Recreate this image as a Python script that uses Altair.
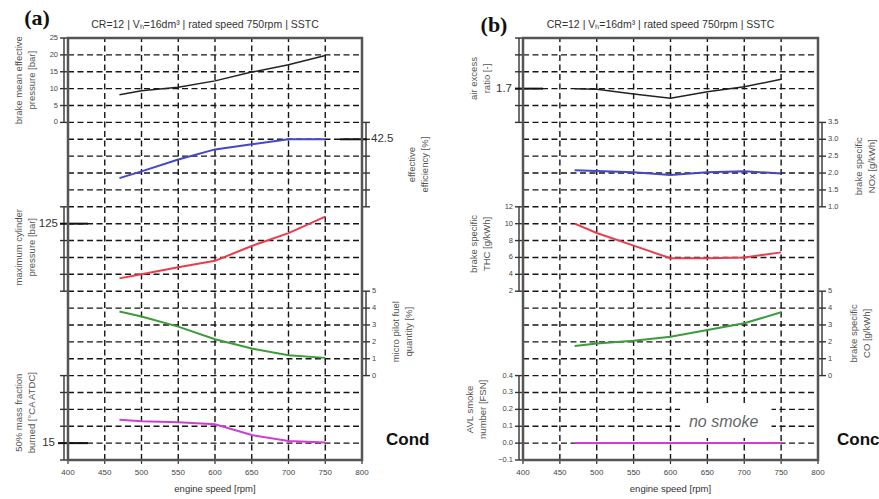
import altair as alt
import pandas as pd

# ---------------- values ----------------
rpm = [470, 500, 550, 600, 650, 700, 750]

# panel (a)
bmep = [8.2, 9.4, 10.4, 12.3, 14.9, 17.1, 19.8]             # bar
eff = [40.2, 40.6, 41.3, 41.9, 42.2, 42.5, 42.5]            # %
pmax = [108.8, 110.0, 112.1, 114.0, 118.4, 122.2, 127.1]    # bar
pilot = [3.8, 3.5, 2.9, 2.15, 1.6, 1.2, 1.05]               # %
mfb50 = [21.9, 21.5, 21.2, 20.6, 17.4, 15.6, 15.2]          # deg CA ATDC

# panel (b)
lam = [1.700, 1.696, 1.668, 1.643, 1.682, 1.711, 1.755]
nox = [2.08, 2.06, 2.02, 1.94, 2.02, 2.05, 1.99]
thc = [10.0, 8.9, 7.4, 5.9, 5.9, 6.0, 6.6]
co = [1.75, 1.90, 2.06, 2.30, 2.70, 3.10, 3.75]
smoke = [0.0, 0.0, 0.0, 0.0, 0.0, 0.0, 0.0]

x_ticks = [400, 450, 500, 550, 600, 650, 700, 750, 800]
bmep_ticks = [0, 5, 10, 15, 20, 25]
pilot_ticks = [0, 1, 2, 3, 4, 5]
nox_ticks = [1.0, 1.5, 2.0, 2.5, 3.0, 3.5]
thc_ticks = [2, 4, 6, 8, 10, 12]
co_ticks = [0, 1, 2, 3, 4, 5]
smoke_ticks = [-0.1, 0.0, 0.1, 0.2, 0.3, 0.4]

# band mapping of each quantity onto the common grid: (grid level, value there, value per grid step)
M_BMEP = (20, 0, 5)
M_EFF = (19, 42.5, 1)
M_PMAX = (14, 125, 5)
M_PILOT = (5, 0, 1)
M_MFB = (1, 15, 5)
M_LAM = (22, 1.7, 0.1)
M_NOX = (15, 1.0, 0.5)
M_THC = (10, 2, 2)
M_CO = (5, 0, 1)
M_SMOKE = (1, 0.0, 0.1)

TITLE = "CR=12 | V\u2095=16dm\u00b3 | rated speed 750rpm | SSTC"
FONT = "Liberation Sans"
GRID = "#151515"
AXC = "#333"

RANGE_A = [0, 294]
RANGE_B = [455, 750]
YS = alt.Scale(domain=[0, 25], nice=False, zero=False)


def X(f, rng):
    return alt.X(f, type="quantitative",
                 scale=alt.Scale(domain=[400, 800], range=rng, nice=False, zero=False),
                 axis=None)


def Y(f):
    return alt.Y(f, type="quantitative", scale=YS, axis=None)


def ucalc(field, m):
    u0, base, step = m
    return f"{u0} + (datum.{field} - ({base})) / {step}"


def frame(rng):
    df = pd.DataFrame({"x0": [400], "x1": [800], "u0": [0], "u1": [25]})
    return alt.Chart(df).mark_rect(fillOpacity=0, stroke="#555", strokeWidth=2.5).encode(
        x=X("x0", rng), x2="x1", y=Y("u0"), y2="u1")


def grids(rng):
    vdf = pd.DataFrame({"x": x_ticks[1:-1], "u0": 0, "u1": 25})
    v = alt.Chart(vdf).mark_rule(color=GRID, strokeWidth=1.4, strokeDash=[6, 3.5]).encode(
        x=X("x", rng), y=Y("u0"), y2="u1")
    hdf = pd.DataFrame({"u": list(range(1, 25)), "x0": 400, "x1": 800})
    h = alt.Chart(hdf).mark_rule(color=GRID, strokeWidth=1.4, strokeDash=[6, 3.5]).encode(
        x=X("x0", rng), x2="x1", y=Y("u"))
    return [v, h]


def series(rng, vals, m, color, sw=2.0):
    df = pd.DataFrame({"rpm": rpm, "v": vals})
    return alt.Chart(df).transform_calculate(u=ucalc("v", m)).mark_line(
        color=color, strokeWidth=sw).encode(x=X("rpm", rng), y=Y("u"))


def bracket(rng, side, lo, hi):
    xv = 400 if side == "left" else 800
    s = -1 if side == "left" else 1
    vdf = pd.DataFrame({"x": [xv], "lo": [lo], "hi": [hi]})
    v = alt.Chart(vdf).mark_rule(color=AXC, strokeWidth=1.4, xOffset=4 * s).encode(
        x=X("x", rng), y=Y("lo"), y2="hi")
    tdf = pd.DataFrame({"x0": xv, "x1": xv, "u": list(range(lo, hi + 1))})
    t = alt.Chart(tdf).mark_rule(color=AXC, strokeWidth=1.4, xOffset=1 * s, x2Offset=8 * s).encode(
        x=X("x0", rng), x2="x1", y=Y("u"))
    return [v, t]


def tick_labels(rng, side, ticks, m, fmt):
    left = side == "left"
    df = pd.DataFrame({"x": 400 if left else 800, "t": ticks})
    return alt.Chart(df).transform_calculate(u=ucalc("t", m)).mark_text(
        align="right" if left else "left", baseline="middle",
        xOffset=-10 if left else 10, fontSize=7.5, color="#444", font=FONT).encode(
        x=X("x", rng), y=Y("u"), text=alt.Text("t:Q", format=fmt))


def big_tick(rng, side, value, m, label, x_from, x_to, lab_off):
    left = side == "left"
    xv = 400 if left else 800
    df = pd.DataFrame({"x0": [xv], "x1": [xv], "t": [value], "s": [label]})
    base = alt.Chart(df).transform_calculate(u=ucalc("t", m))
    r = base.mark_rule(color="#111", strokeWidth=2, xOffset=x_from, x2Offset=x_to).encode(
        x=X("x0", rng), x2="x1", y=Y("u"))
    t = base.mark_text(align="right" if left else "left", baseline="middle", xOffset=lab_off,
                       fontSize=11.5, color="#333", font=FONT).encode(
        x=X("x0", rng), y=Y("u"), text="s:N")
    return [r, t]


def vtitle(rng, side, lines, uc, off):
    xv = 400 if side == "left" else 800
    out = []
    n = len(lines)
    for i, line in enumerate(lines):
        o = off + (i - (n - 1) / 2) * 13
        df = pd.DataFrame({"x": [xv], "u": [uc], "s": [line]})
        out.append(alt.Chart(df).mark_text(angle=270, align="center", baseline="middle", xOffset=o,
                                           fontSize=9.5, color="#555", font=FONT).encode(
            x=X("x", rng), y=Y("u"), text="s:N"))
    return out


def xaxis(rng):
    df = pd.DataFrame({"x": x_ticks, "u": 0})
    lab = alt.Chart(df).mark_text(yOffset=13, fontSize=8, color="#444", font=FONT).encode(
        x=X("x", rng), y=Y("u"), text=alt.Text("x:Q", format="d"))
    tk = alt.Chart(df).mark_rule(color=AXC, strokeWidth=1.2, y2Offset=4).encode(
        x=X("x", rng), y=Y("u"), y2="u")
    tdf = pd.DataFrame({"x": [600], "u": [0], "s": ["engine speed [rpm]"]})
    ttl = alt.Chart(tdf).mark_text(yOffset=29, fontSize=9.5, color="#333", font=FONT).encode(
        x=X("x", rng), y=Y("u"), text="s:N")
    return [lab, tk, ttl]


def header(rng, tag, tag_dx, tag_dy):
    df = pd.DataFrame({"x": [600], "u": [25], "s": [TITLE]})
    t = alt.Chart(df).mark_text(xOffset=-10, yOffset=-13, fontSize=10.5, color="#333", font=FONT).encode(
        x=X("x", rng), y=Y("u"), text="s:N")
    tdf = pd.DataFrame({"x": [400], "u": [25], "s": [tag]})
    g = alt.Chart(tdf).mark_text(xOffset=tag_dx, yOffset=tag_dy, fontSize=22, fontWeight="bold",
                                 font="Liberation Serif", color="#111").encode(
        x=X("x", rng), y=Y("u"), text="s:N")
    return [t, g]


def side_text(rng, text, dx):
    df = pd.DataFrame({"x": [800], "u": [1], "s": [text]})
    return alt.Chart(df).mark_text(align="left", baseline="middle", xOffset=dx, yOffset=-3,
                                   fontSize=17, fontWeight="bold", font=FONT, color="#111").encode(
        x=X("x", rng), y=Y("u"), text="s:N")


BLACK, BLUE, RED, GREEN, MAG = "#222222", "#4646c8", "#ec3c4c", "#3c9c3c", "#d23cd2"

# ---------------- panel (a) ----------------
ra = RANGE_A
la = []
la += grids(ra)
la += [series(ra, bmep, M_BMEP, BLACK, 1.5), series(ra, eff, M_EFF, BLUE),
       series(ra, pmax, M_PMAX, RED), series(ra, pilot, M_PILOT, GREEN),
       series(ra, mfb50, M_MFB, MAG)]
la += bracket(ra, "left", 20, 25) + bracket(ra, "left", 10, 15) + bracket(ra, "left", 0, 5)
la += bracket(ra, "right", 15, 20) + bracket(ra, "right", 5, 10)
la += [tick_labels(ra, "left", bmep_ticks, M_BMEP, "d"),
       tick_labels(ra, "right", pilot_ticks, M_PILOT, "d")]
la += big_tick(ra, "left", 125, M_PMAX, "125", -8, 20, -10)
la += big_tick(ra, "left", 15, M_MFB, "15", -10, 20, -13)
la += big_tick(ra, "right", 42.5, M_EFF, "42.5", -22, 5, 9)
la += vtitle(ra, "left", ["brake mean effective", "pressure [bar]"], 22.5, -43)
la += vtitle(ra, "left", ["maximum cylinder", "pressure [bar]"], 12.6, -43)
la += vtitle(ra, "left", ["50% mass fraction", "burned [\u00b0CA ATDC]"], 2.8, -43)
la += vtitle(ra, "right", ["effective", "efficiency [%]"], 17.5, 56)
la += vtitle(ra, "right", ["micro pilot fuel", "quantity [%]"], 7.6, 40)
la += xaxis(ra) + header(ra, "(a)", -31, -20)
la += [side_text(ra, "Cond", 24), frame(ra)]
panel_a = alt.layer(*la)

# ---------------- panel (b) ----------------
rb = RANGE_B
lb = []
lb += grids(rb)
box = pd.DataFrame({"x0": [613], "x1": [737], "u0": [1.3], "u1": [3.25]})
lb.append(alt.Chart(box).mark_rect(color="white").encode(x=X("x0", rb), x2="x1", y=Y("u0"), y2="u1"))
ns = pd.DataFrame({"x": [672], "u": [2.27], "s": ["no smoke"]})
lb.append(alt.Chart(ns).mark_text(fontSize=16, fontStyle="italic", color="#666", font=FONT,
                                  baseline="middle").encode(x=X("x", rb), y=Y("u"), text="s:N"))
lb += [series(rb, lam, M_LAM, BLACK, 1.5), series(rb, nox, M_NOX, BLUE),
       series(rb, thc, M_THC, RED), series(rb, co, M_CO, GREEN),
       series(rb, smoke, M_SMOKE, MAG)]
lb += bracket(rb, "left", 20, 25) + bracket(rb, "left", 10, 15) + bracket(rb, "left", 0, 5)
lb += bracket(rb, "right", 15, 20) + bracket(rb, "right", 5, 10)
lb += [tick_labels(rb, "left", thc_ticks, M_THC, "d"),
       tick_labels(rb, "left", smoke_ticks, M_SMOKE, ".1f"),
       tick_labels(rb, "right", nox_ticks, M_NOX, ".1f"),
       tick_labels(rb, "right", co_ticks, M_CO, "d")]
lb += big_tick(rb, "left", 1.7, M_LAM, "1.7", -8, 20, -11)
lb += vtitle(rb, "left", ["air excess", "ratio [-]"], 22.6, -43)
lb += vtitle(rb, "left", ["brake specific", "THC [g/kWh]"], 12.8, -43)
lb += vtitle(rb, "left", ["AVL smoke", "number [FSN]"], 3.0, -47)
lb += vtitle(rb, "right", ["brake specific", "NOx [g/kWh]"], 17.4, 47)
lb += vtitle(rb, "right", ["brake specific", "CO [g/kWh]"], 7.5, 42)
lb += xaxis(rb) + header(rb, "(b)", -29, -13)
lb += [side_text(rb, "Conc", 19), frame(rb)]
panel_b = alt.layer(*lb)

chart = alt.layer(panel_a, panel_b).resolve_scale(x="independent").properties(
    width=750, height=422,
    padding={"left": 68, "top": 38, "right": 61, "bottom": 39},
    autosize=alt.AutoSizeParams(type="none"),
    background="white",
).configure_view(stroke=None)

chart.save("out.html", embed_options={"renderer": "svg", "actions": False})
